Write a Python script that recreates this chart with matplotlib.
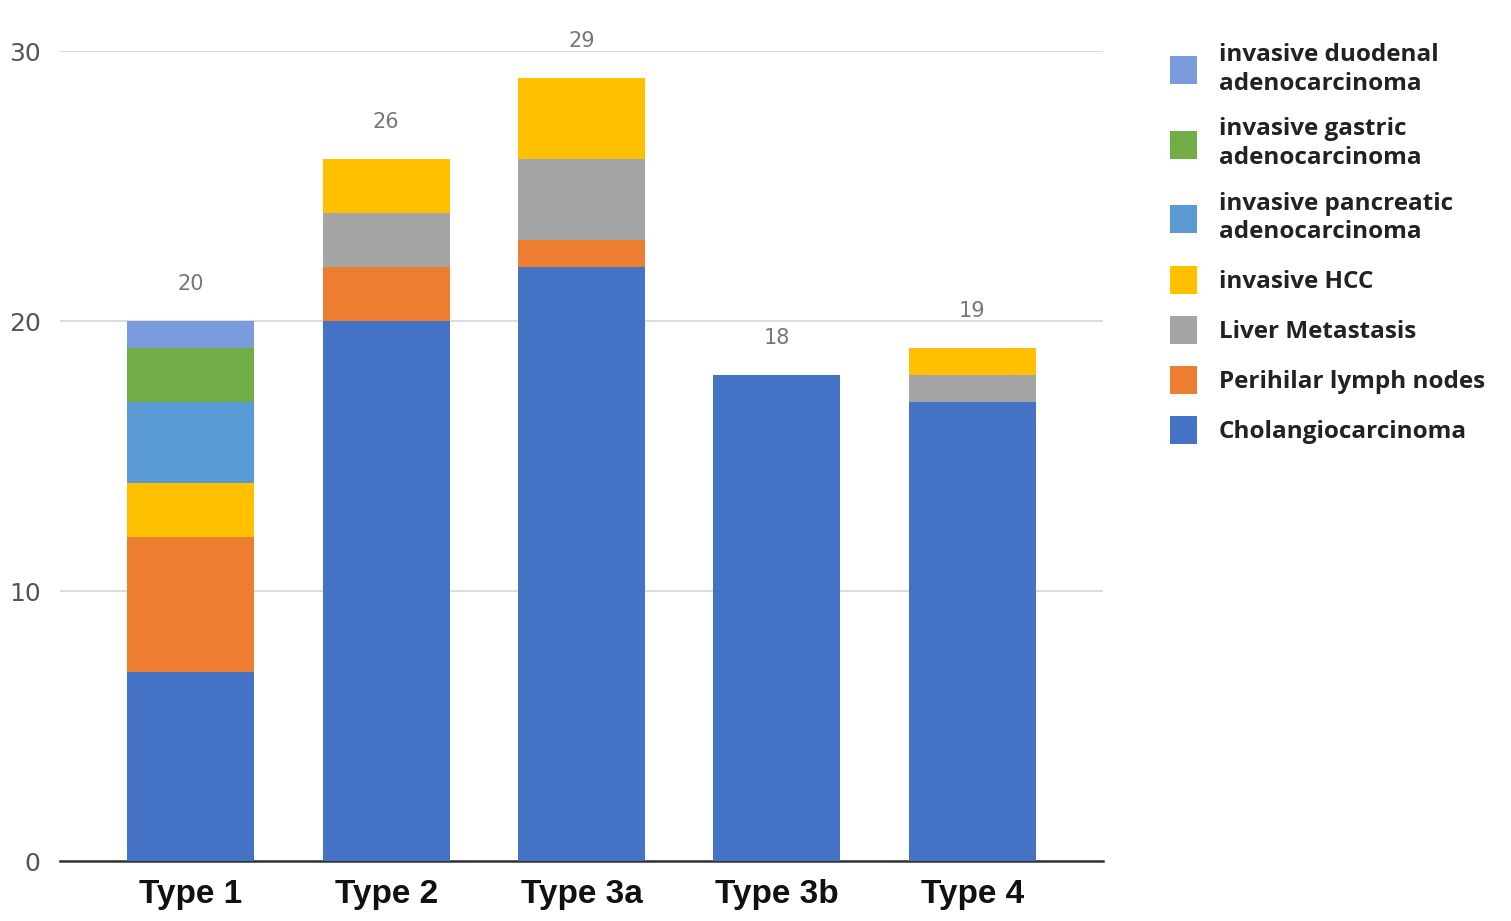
import numpy as np
import matplotlib
matplotlib.use('Agg')
import matplotlib.pyplot as plt
from matplotlib.patches import Patch

types = ['Type 1', 'Type 2', 'Type 3a', 'Type 3b', 'Type 4']

# stacked from bottom to top
cholangio  = [7, 20, 22, 18, 17]
perihilar  = [5, 2, 1, 0, 0]
liver_met  = [0, 2, 3, 0, 1]
hcc        = [2, 2, 3, 0, 1]
pancreatic = [3, 0, 0, 0, 0]
gastric    = [2, 0, 0, 0, 0]
duodenal   = [1, 0, 0, 0, 0]

series = [
    ('Cholangiocarcinoma', cholangio, '#4472C4'),
    ('Perihilar lymph nodes', perihilar, '#ED7D31'),
    ('Liver Metastasis', liver_met, '#A5A5A5'),
    ('invasive HCC', hcc, '#FFC000'),
    ('invasive pancreatic\nadenocarcinoma', pancreatic, '#5B9BD5'),
    ('invasive gastric\nadenocarcinoma', gastric, '#70AD47'),
    ('invasive duodenal\nadenocarcinoma', duodenal, '#7A9CDD'),
]

fig = plt.figure(figsize=(15.11, 9.21), dpi=100)
ax = fig.add_axes([0.0397, 0.0651, 0.6903, 0.8795])

x = np.arange(len(types))
bottom = np.zeros(len(types))
handles = []
for name, vals, col in series:
    vals = np.array(vals, dtype=float)
    ax.bar(x, vals, 0.65, bottom=bottom, color=col, zorder=3)
    bottom += vals
    handles.append(Patch(facecolor=col, label=name))

for xi, tot in zip(x, bottom):
    ax.text(xi, tot + 1.0, str(int(tot)), ha='center', va='bottom',
            fontsize=15, color='#777777', clip_on=False)

ax.set_xlim(-0.67, 4.67)
ax.set_ylim(0, 30)
ax.set_yticks([0, 10, 20, 30])
ax.yaxis.grid(True, color='#d9d9d9', linewidth=1.3, zorder=0)
for s in ['top', 'right', 'left']:
    ax.spines[s].set_visible(False)
ax.spines['bottom'].set_color('#333333')
ax.spines['bottom'].set_linewidth(1.8)
ax.tick_params(axis='y', length=0, labelsize=18, labelcolor='#555555', pad=14)
ax.tick_params(axis='x', length=0, pad=13)
ax.set_xticks(x)
ax.set_xticklabels(types, fontsize=24, fontweight='bold',
                   family='Liberation Sans', color='#111111')

# legend, top entry first
handles = handles[::-1]
leg = fig.legend(handles=handles, loc='upper left', bbox_to_anchor=(0.760, 0.977),
                 frameon=False,
                 prop={'family': 'Open Sans', 'weight': 'bold', 'size': 17.5},
                 handlelength=1.12, handleheight=1.4, handletextpad=0.88,
                 labelspacing=0.9)
for t in leg.get_texts():
    t.set_linespacing(1.25)
    t.set_color('#222222')

fig.savefig('out.png', dpi=100)
